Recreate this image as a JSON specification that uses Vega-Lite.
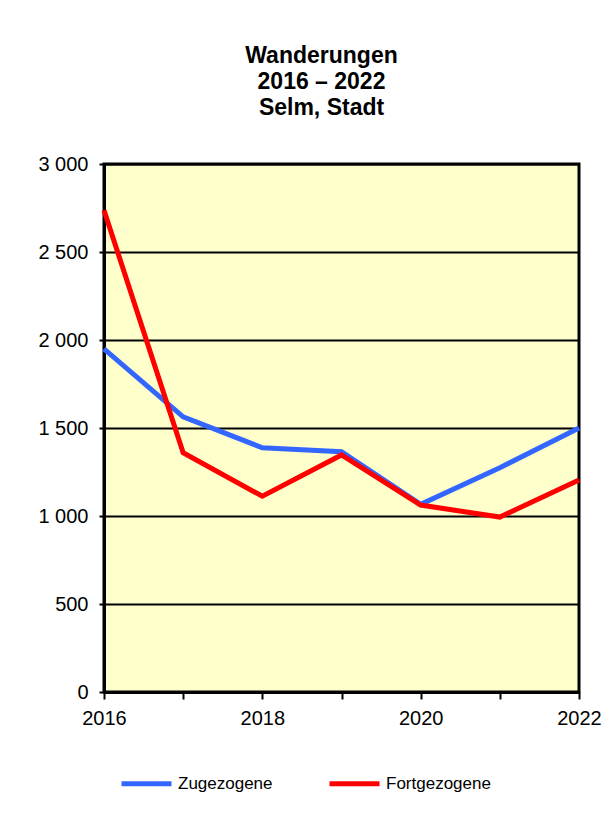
{
  "$schema": "https://vega.github.io/schema/vega-lite/v6.json",
  "autosize": {"type": "none"},
  "width": 475,
  "height": 528,
  "padding": {"left": 104, "top": 164, "right": 33, "bottom": 125},
  "background": "white",
  "title": {
    "text": ["Wanderungen", "2016 – 2022", "Selm, Stadt"],
    "font": "Liberation Sans",
    "fontSize": 23,
    "fontWeight": "bold",
    "lineHeight": 26,
    "color": "black",
    "anchor": "middle",
    "frame": "group",
    "dx": -20,
    "offset": 34
  },
  "data": {
    "values": [
      {"jahr": 2016, "serie": "Zugezogene", "wert": 1950},
      {"jahr": 2017, "serie": "Zugezogene", "wert": 1563},
      {"jahr": 2018, "serie": "Zugezogene", "wert": 1388},
      {"jahr": 2019, "serie": "Zugezogene", "wert": 1365},
      {"jahr": 2020, "serie": "Zugezogene", "wert": 1066},
      {"jahr": 2021, "serie": "Zugezogene", "wert": 1274},
      {"jahr": 2022, "serie": "Zugezogene", "wert": 1500},
      {"jahr": 2016, "serie": "Fortgezogene", "wert": 2737},
      {"jahr": 2017, "serie": "Fortgezogene", "wert": 1359},
      {"jahr": 2018, "serie": "Fortgezogene", "wert": 1112},
      {"jahr": 2019, "serie": "Fortgezogene", "wert": 1347},
      {"jahr": 2020, "serie": "Fortgezogene", "wert": 1062},
      {"jahr": 2021, "serie": "Fortgezogene", "wert": 994},
      {"jahr": 2022, "serie": "Fortgezogene", "wert": 1205}
    ]
  },
  "mark": {"type": "line", "strokeWidth": 5, "strokeJoin": "miter"},
  "encoding": {
    "x": {
      "field": "jahr",
      "type": "quantitative",
      "scale": {"domain": [2016, 2022], "nice": false, "zero": false},
      "axis": {
        "title": null,
        "values": [2016, 2017, 2018, 2019, 2020, 2021, 2022],
        "labelExpr": "datum.value % 2 == 0 ? format(datum.value, 'd') : ''",
        "grid": false,
        "domainColor": "black",
        "domainWidth": 3,
        "tickColor": "black",
        "tickWidth": 2,
        "tickSize": 7,
        "labelPadding": 9,
        "labelFont": "Liberation Sans",
        "labelFontSize": 20,
        "labelColor": "black",
        "labelFlush": false,
        "labelOverlap": false
      }
    },
    "y": {
      "field": "wert",
      "type": "quantitative",
      "scale": {"domain": [0, 3000], "nice": false},
      "axis": {
        "title": null,
        "values": [0, 500, 1000, 1500, 2000, 2500, 3000],
        "labelExpr": "replace(format(datum.value, ','), ',', ' ')",
        "grid": true,
        "gridColor": "black",
        "gridWidth": 2,
        "gridOpacity": 1,
        "domainColor": "black",
        "domainWidth": 3,
        "tickColor": "black",
        "tickWidth": 2,
        "tickSize": 5,
        "labelPadding": 11,
        "labelFont": "Liberation Sans",
        "labelFontSize": 20,
        "labelColor": "black",
        "labelFlush": false,
        "labelOverlap": false
      }
    },
    "color": {
      "field": "serie",
      "type": "nominal",
      "scale": {"domain": ["Zugezogene", "Fortgezogene"], "range": ["#3366FF", "#FF0000"]},
      "legend": {
        "title": null,
        "orient": "none",
        "legendX": 15,
        "legendY": 592,
        "direction": "horizontal",
        "symbolType": "stroke",
        "symbolSize": 2500,
        "symbolStrokeWidth": 5,
        "labelFont": "Liberation Sans",
        "labelFontSize": 17,
        "labelColor": "black",
        "labelOffset": 4,
        "columnPadding": 46
      }
    }
  },
  "config": {
    "view": {"fill": "#FFFFCC", "stroke": "black", "strokeWidth": 3}
  }
}
